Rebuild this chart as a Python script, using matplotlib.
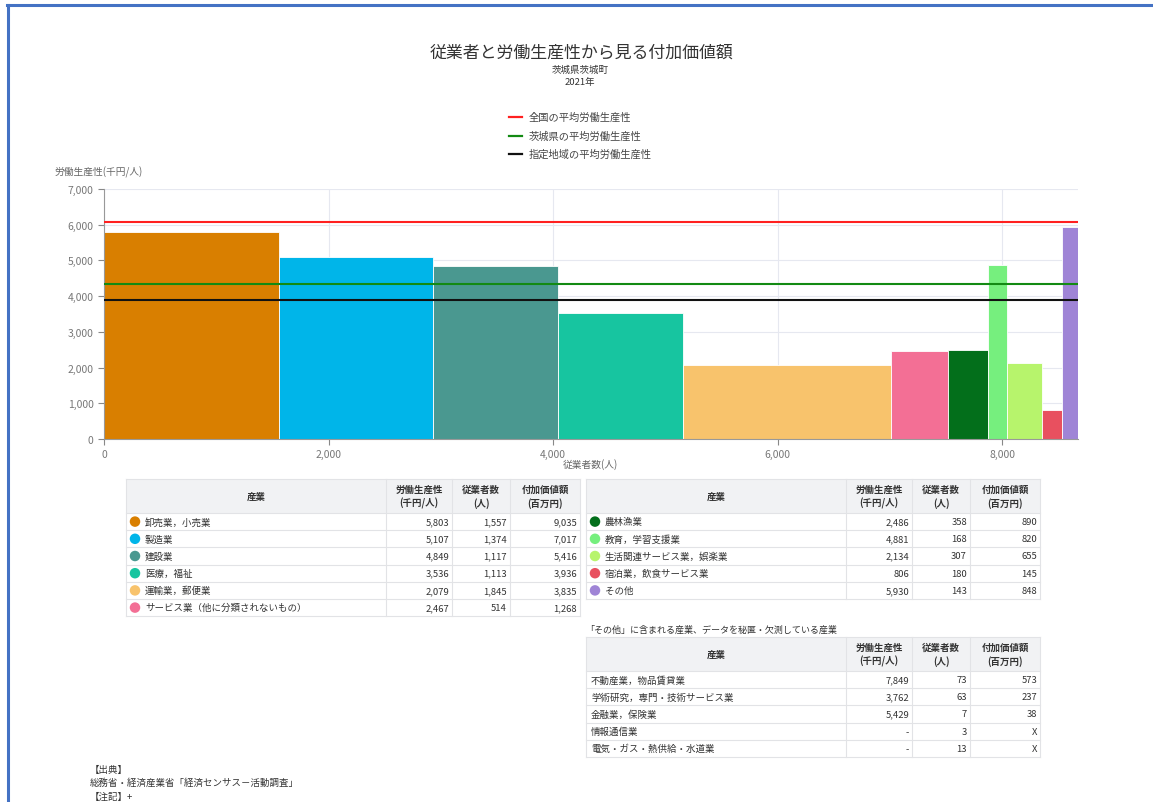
import numpy as np
import matplotlib
matplotlib.use("Agg")
import matplotlib.pyplot as plt
from matplotlib.lines import Line2D
from matplotlib.patches import Rectangle, Ellipse

plt.rcParams['font.family'] = ['Noto Sans CJK JP', 'DejaVu Sans']

W, H = 1153, 803

# data
industries = ["卸売業，小売業", "製造業", "建設業", "医療，福祉", "運輸業，郵便業",
              "サービス業（他に分類されないもの）", "農林漁業", "教育，学習支援業",
              "生活関連サービス業，娯楽業", "宿泊業，飲食サービス業", "その他"]
productivity = [5803, 5107, 4849, 3536, 2079, 2467, 2486, 4881, 2134, 806, 5930]
employees = [1557, 1374, 1117, 1113, 1845, 514, 358, 168, 307, 180, 143]
value_added = [9035, 7017, 5416, 3936, 3835, 1268, 890, 820, 655, 145, 848]
colors = ["#d97f00", "#00b5e9", "#4a9890", "#17c5a0", "#f8c36c", "#f36f95",
          "#036f1b", "#76ef7e", "#b7f46c", "#e8505f", "#9f84d6"]

avg_labels = ["全国の平均労働生産性", "茨城県の平均労働生産性", "指定地域の平均労働生産性"]
avg_values = [6080, 4330, 3903]
avg_colors = ["#ff2020", "#138a13", "#111111"]

other_names = ["不動産業，物品賃貸業", "学術研究，専門・技術サービス業", "金融業，保険業",
               "情報通信業", "電気・ガス・熱供給・水道業"]
other_prod = ["7,849", "3,762", "5,429", "-", "-"]
other_emp = ["73", "63", "7", "3", "13"]
other_va = ["573", "237", "38", "X", "X"]


def fx(x):
    return x / W


def fy(y):
    return 1 - y / H


fig = plt.figure(figsize=(W / 100, H / 100), dpi=100)
fig.patch.set_facecolor("white")

# frame lines (left and top)
fig.add_artist(Line2D([fx(7.5), fx(7.5)], [fy(6), fy(803)], color="#4472c4", lw=2.2,
                      transform=fig.transFigure))
fig.add_artist(Line2D([fx(7), fx(1153)], [fy(6), fy(6)], color="#4472c4", lw=2.2,
                      transform=fig.transFigure))

# titles
fig.text(fx(582), fy(53), "従業者と労働生産性から見る付加価値額", ha="center", va="center",
         fontsize=12.2, color="#333333")
fig.text(fx(580), fy(70), "茨城県茨城町", ha="center", va="center", fontsize=6.8, color="#333333")
fig.text(fx(580), fy(83), "2021年", ha="center", va="center", fontsize=6.8, color="#333333")

# legend
for i, (lab, c) in enumerate(zip(avg_labels, avg_colors)):
    yy = 118 + i * 18.5
    fig.add_artist(Line2D([fx(509), fx(522)], [fy(yy), fy(yy)], color=c, lw=1.6,
                          transform=fig.transFigure))
    fig.text(fx(529), fy(yy), lab, ha="left", va="center", fontsize=7.4, color="#444444")

# chart
ax = fig.add_axes([fx(104), fy(440), (1078 - 104) / W, 250 / H])
lefts = np.concatenate([[0], np.cumsum(employees)[:-1]])
ax.bar(lefts, productivity, width=employees, align="edge", color=colors,
       edgecolor="white", linewidth=0.6, zorder=2)
total = sum(employees)
for v, c in zip(avg_values, avg_colors):
    ax.axhline(v, color=c, lw=1.5, zorder=3)
ax.set_xlim(0, total)
ax.set_ylim(0, 7000)
ax.set_yticks(range(0, 7001, 1000))
ax.set_xticks(range(0, 8001, 2000))
ax.set_yticklabels([f"{v:,}" for v in range(0, 7001, 1000)])
ax.set_xticklabels([f"{v:,}" for v in range(0, 8001, 2000)])
ax.grid(True, color="#e6e8f0", lw=0.8, zorder=0)
ax.set_axisbelow(True)
for s in ["top", "right"]:
    ax.spines[s].set_visible(False)
for s in ["left", "bottom"]:
    ax.spines[s].set_color("#999999")
    ax.spines[s].set_linewidth(0.8)
ax.tick_params(colors="#888888", labelsize=7.5, length=4, width=0.8, labelcolor="#777777")

fig.text(fx(55), fy(172), "労働生産性(千円/人)", ha="left", va="center", fontsize=7, color="#666666")
fig.text(fx(590), fy(465), "従業者数(人)", ha="center", va="center", fontsize=7, color="#666666")


def draw_table(x_edges, y_top, names, cols, dot_colors=None):
    head_h = 34
    row_h = 17.2
    n = len(names)
    x0, x1 = x_edges[0], x_edges[-1]
    bottom = y_top + head_h + n * row_h
    fig.add_artist(Rectangle((fx(x0), fy(y_top + head_h)), (x1 - x0) / W, head_h / H,
                             transform=fig.transFigure, facecolor="#f1f2f4", edgecolor="none"))
    # horizontal lines
    ys = [y_top, y_top + head_h] + [y_top + head_h + (k + 1) * row_h for k in range(n)]
    for yy in ys:
        fig.add_artist(Line2D([fx(x0), fx(x1)], [fy(yy), fy(yy)], color="#e2e3e6", lw=0.8,
                              transform=fig.transFigure))
    for xx in x_edges:
        fig.add_artist(Line2D([fx(xx), fx(xx)], [fy(y_top), fy(bottom)], color="#e2e3e6", lw=0.8,
                              transform=fig.transFigure))
    # header
    hy = y_top + head_h / 2
    fig.text(fx((x_edges[0] + x_edges[1]) / 2), fy(hy), "産業", ha="center", va="center",
             fontsize=6.8, color="#333333", fontweight="bold")
    heads = ["労働生産性\n(千円/人)", "従業者数\n(人)", "付加価値額\n(百万円)"]
    for j, hd in enumerate(heads):
        fig.text(fx((x_edges[j + 1] + x_edges[j + 2]) / 2), fy(hy), hd, ha="center", va="center",
                 fontsize=6.8, color="#333333", fontweight="bold", linespacing=1.3)
    for i, name in enumerate(names):
        yy = y_top + head_h + (i + 0.5) * row_h
        tx = x0 + 5
        if dot_colors is not None:
            fig.add_artist(Ellipse((fx(x0 + 9), fy(yy)), 10.5 / W, 10.5 / H,
                                   transform=fig.transFigure,
                                   facecolor=dot_colors[i], edgecolor="none"))
            tx = x0 + 19
        fig.text(fx(tx), fy(yy), name, ha="left", va="center", fontsize=6.8, color="#333333")
        for j, col in enumerate(cols):
            fig.text(fx(x_edges[j + 2] - 3), fy(yy), col[i], ha="right", va="center",
                     fontsize=6.8, color="#333333")


fmt = lambda a: [f"{v:,}" for v in a]
draw_table([126, 386, 452, 510, 580], 480, industries[:6],
           [fmt(productivity[:6]), fmt(employees[:6]), fmt(value_added[:6])], colors[:6])
draw_table([586, 846, 912, 970, 1040], 480, industries[6:],
           [fmt(productivity[6:]), fmt(employees[6:]), fmt(value_added[6:])], colors[6:])

fig.text(fx(585), fy(630), "「その他」に含まれる産業、データを秘匿・欠測している産業", ha="left",
         va="center", fontsize=6.5, color="#333333")
draw_table([586, 846, 912, 970, 1040], 638, other_names, [other_prod, other_emp, other_va])

# footer
fig.text(fx(90), fy(770), "【出典】", ha="left", va="center", fontsize=6.8, color="#333333")
fig.text(fx(90), fy(783), "総務省・経済産業省「経済センサス－活動調査」", ha="left", va="center",
         fontsize=6.8, color="#333333")
fig.text(fx(90), fy(797), "【注記】+", ha="left", va="center", fontsize=6.8, color="#333333")

fig.savefig("out.png", dpi=100, facecolor="white")
